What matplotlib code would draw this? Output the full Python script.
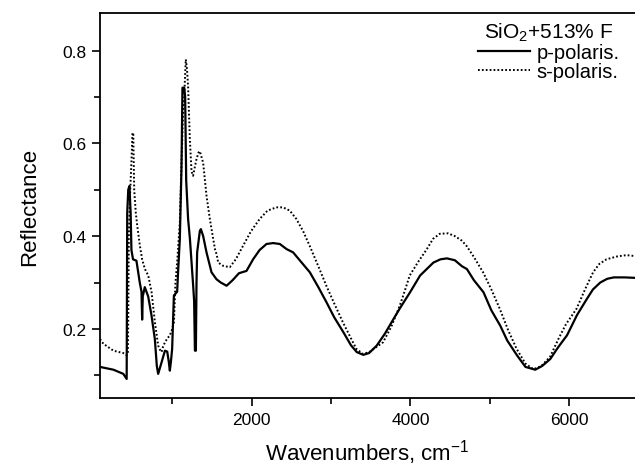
"""Reflectance spectra of SiO2 + F film, p- and s-polarisation."""
import matplotlib
matplotlib.use("Agg")
import matplotlib.pyplot as plt
from matplotlib.ticker import MultipleLocator

plt.rcParams['font.family'] = ['Liberation Sans', 'DejaVu Sans']
plt.rcParams['mathtext.default'] = 'regular'

# p-polarisation (solid)
p_wn = [89, 258, 383, 425, 432, 445, 460, 475, 485, 505, 548, 590, 612, 620, 628,
        653, 696, 738, 780, 805, 822, 865, 907, 936, 955, 969, 983, 998, 1020, 1061,
        1075, 1095, 1116, 1128, 1150, 1162, 1175, 1199, 1222, 1263, 1275, 1285, 1297,
        1305, 1313, 1347, 1360, 1389, 1431, 1494, 1557, 1610, 1684, 1760, 1840, 1935,
        2018, 2100, 2187, 2270, 2355, 2440, 2522, 2620, 2733, 2840, 2944, 3040, 3155,
        3250, 3324, 3407, 3480, 3576, 3680, 3786, 3870, 3996, 4122, 4290, 4380, 4460,
        4560, 4650, 4712, 4800, 4921, 5020, 5132, 5220, 5343, 5450, 5573, 5660, 5762,
        5860, 5973, 6100, 6225, 6300, 6393, 6480, 6562, 6700, 6830]
p_refl = [0.118, 0.112, 0.103, 0.092, 0.45, 0.50, 0.508, 0.45, 0.37, 0.35, 0.347, 0.30,
          0.28, 0.22, 0.27, 0.29, 0.27, 0.229, 0.178, 0.12, 0.103, 0.128, 0.153, 0.151,
          0.13, 0.11, 0.13, 0.157, 0.272, 0.28, 0.33, 0.394, 0.55, 0.72, 0.72, 0.70,
          0.52, 0.437, 0.394, 0.293, 0.26, 0.153, 0.153, 0.30, 0.365, 0.411, 0.415, 0.40,
          0.365, 0.322, 0.307, 0.30, 0.293, 0.305, 0.32, 0.325, 0.35, 0.37, 0.383, 0.385,
          0.383, 0.372, 0.365, 0.345, 0.322, 0.29, 0.257, 0.225, 0.193, 0.165, 0.15,
          0.144, 0.148, 0.164, 0.19, 0.221, 0.245, 0.279, 0.315, 0.343, 0.35, 0.352,
          0.348, 0.335, 0.329, 0.305, 0.279, 0.24, 0.207, 0.175, 0.143, 0.118, 0.112,
          0.12, 0.135, 0.16, 0.186, 0.23, 0.265, 0.285, 0.30, 0.308, 0.311, 0.311, 0.31]

# s-polarisation (dotted)
s_wn = [89, 131, 258, 380, 425, 440, 445, 452, 470, 485, 498, 508, 520, 540, 560, 592,
        620, 655, 697, 739, 781, 822, 845, 865, 880, 907, 940, 969, 1000, 1020, 1040,
        1061, 1095, 1116, 1135, 1150, 1170, 1185, 1199, 1221, 1242, 1262, 1285, 1305,
        1330, 1347, 1389, 1431, 1473, 1515, 1540, 1560, 1578, 1640, 1724, 1800, 1891,
        1990, 2101, 2200, 2311, 2395, 2480, 2563, 2650, 2731, 2840, 2941, 3040, 3150,
        3250, 3319, 3402, 3480, 3655, 3760, 3866, 3935, 3991, 4100, 4200, 4285, 4370,
        4474, 4560, 4650, 4707, 4800, 4916, 5020, 5127, 5230, 5338, 5450, 5550, 5650,
        5760, 5870, 5960, 6092, 6200, 6302, 6380, 6471, 6600, 6723, 6830]
s_refl = [0.178, 0.168, 0.153, 0.148, 0.143, 0.15, 0.22, 0.40, 0.50, 0.56, 0.623, 0.62,
          0.50, 0.45, 0.42, 0.379, 0.35, 0.329, 0.315, 0.279, 0.214, 0.164, 0.155, 0.15,
          0.16, 0.171, 0.18, 0.186, 0.20, 0.214, 0.30, 0.343, 0.43, 0.56, 0.66, 0.70,
          0.781, 0.76, 0.723, 0.609, 0.54, 0.53, 0.55, 0.566, 0.58, 0.583, 0.558, 0.487,
          0.437, 0.394, 0.37, 0.36, 0.343, 0.336, 0.333, 0.35, 0.379, 0.41, 0.437, 0.455,
          0.462, 0.462, 0.455, 0.437, 0.41, 0.379, 0.335, 0.293, 0.255, 0.214, 0.18,
          0.157, 0.146, 0.15, 0.171, 0.205, 0.25, 0.285, 0.315, 0.345, 0.37, 0.394,
          0.405, 0.406, 0.40, 0.39, 0.379, 0.355, 0.322, 0.285, 0.243, 0.198, 0.157,
          0.125, 0.113, 0.12, 0.14, 0.18, 0.21, 0.243, 0.285, 0.322, 0.34, 0.35, 0.356,
          0.359, 0.357]

fig = plt.figure(figsize=(6.35, 4.77), dpi=100)
ax = fig.add_axes([100 / 635, 1 - 399 / 477, 1 - 100 / 635, 385 / 477])

ax.plot(p_wn, p_refl, color='black', lw=1.6, label='p-polaris.')
ax.plot(s_wn, s_refl, color='black', lw=1.4, linestyle=(0, (0.9, 1.1)),
        label='s-polaris.')

ax.set_xlim(89, 6830)
ax.set_ylim(0.051, 0.881)
ax.xaxis.set_minor_locator(MultipleLocator(1000))
ax.yaxis.set_minor_locator(MultipleLocator(0.1))
ax.set_yticks([0.2, 0.4, 0.6, 0.8])
ax.set_yticklabels(['0.2', '0.4', '0.6', '0.8'])
ax.set_xticks([2000, 4000, 6000])

ax.tick_params(which='major', direction='out', length=6, width=1.2, labelsize=12.5,
               pad=4)
ax.tick_params(which='minor', direction='out', length=4, width=1.2)
for side in ('left', 'bottom', 'top'):
    ax.spines[side].set_linewidth(1.3)
ax.spines['right'].set_visible(False)

ax.set_xlabel('Wavenumbers, cm$^{-1}$', fontsize=16, labelpad=7)
ax.set_ylabel('Reflectance', fontsize=16, labelpad=16)

leg = ax.legend(title='SiO$_2$+513% F', loc='upper right',
                bbox_to_anchor=(0.99, 1.005), frameon=False, fontsize=14.5,
                title_fontsize=15, handlelength=2.6, handletextpad=0.3,
                labelspacing=0.0, borderpad=0)

fig.savefig('out.png', dpi=100)
